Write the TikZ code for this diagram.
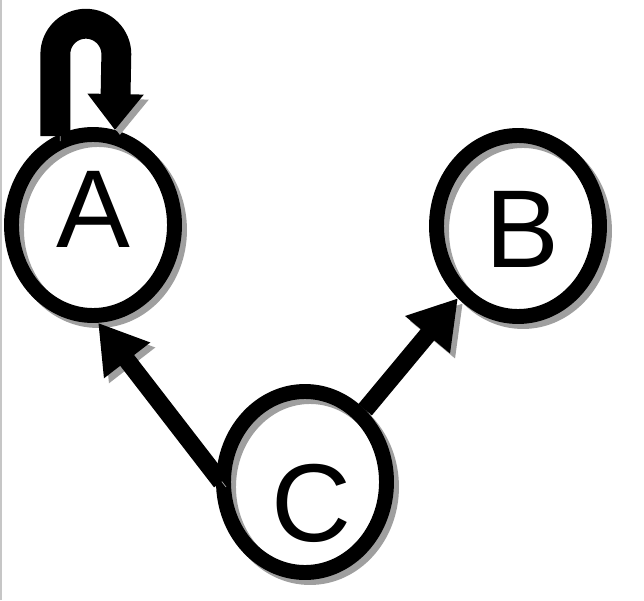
\documentclass[tikz,border=0pt]{standalone}
\usepackage{fontspec}
\setmainfont{Liberation Sans}
\usetikzlibrary{arrows.meta,shapes.geometric}

\tikzset{
  shadowed/.style={preaction={draw=gray!75, transform canvas={shift={(0.1cm,-0.1cm)}}}},
  ring/.style={ellipse, draw, line width=8.5pt, minimum width=3.26cm, minimum height=3.62cm, inner sep=0pt, shadowed},
  letter/.style={inner sep=0pt, font=\fontsize{63}{63}\selectfont},
  link/.style={line width=10pt, -{Triangle[length=0.95cm,width=1.1cm]}, shadowed},
  selfloop/.style={line width=17pt, -{Triangle[length=0.72cm,width=1.08cm]}, shadowed}
}

\begin{document}
\begin{tikzpicture}
    \useasboundingbox (0,0) rectangle (12.88,12);
    \draw[gray!45, line width=1pt] (0.02,0) -- (0.02,12);
    \node[ring] (A) at (1.86,7.5) {};
    \node[ring] (B) at (10.36,7.48) {};
    \node[ring] (C) at (6.1,2.36) {};
    \node[letter] (A-text) at ([yshift=0.32cm]A.center) {A};
    \node[letter] (B-text) at ([xshift=0.08cm,yshift=-0.06cm]B.center) {B};
    \node[letter] (C-text) at ([xshift=0.12cm,yshift=-0.42cm]C.center) {C};
    \draw[selfloop] (A.113) -- ++(0,1.64) arc[start angle=180, end angle=0, radius=0.61] -- (A.77);
    \draw[link] ([xshift=0.1cm]C.west) -- (A.-87);
    \draw[link] (C) -- (B);
\end{tikzpicture}
\end{document}
